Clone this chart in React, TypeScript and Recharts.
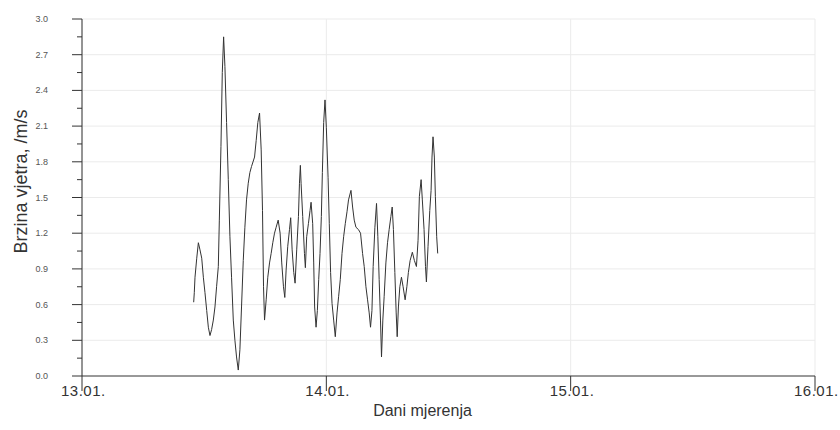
import React from 'react';
import { LineChart, Line, XAxis, YAxis, CartesianGrid, Label, ReferenceLine } from 'recharts';

// hours since 13.01. 00:00
const hours = [
  10.97, 11.03, 11.1, 11.27, 11.43, 11.59, 11.76, 11.92, 12.08, 12.25, 12.41, 12.57, 12.73, 12.9, 13.06, 13.22,
  13.39, 13.49, 13.65, 13.78, 13.91, 14.04, 14.2, 14.37, 14.53, 14.69, 14.86, 15.02, 15.18, 15.35, 15.51, 15.67,
  15.84, 16.0, 16.16, 16.33, 16.49, 16.65, 16.95, 17.11, 17.27, 17.44, 17.6, 17.73, 17.83, 17.93, 18.09, 18.25,
  18.42, 18.58, 18.74, 18.91, 19.07, 19.27, 19.46, 19.62, 19.79, 19.92, 20.05, 20.21, 20.38, 20.5, 20.64, 20.8,
  20.93, 21.09, 21.26, 21.36, 21.45, 21.52, 21.68, 21.85, 21.94, 22.07, 22.24, 22.4, 22.5, 22.66, 22.76, 22.85,
  22.99, 23.12, 23.25, 23.38, 23.51, 23.61, 23.74, 23.87, 24.0, 24.17, 24.29, 24.42, 24.56, 24.72, 24.88, 25.05,
  25.21, 25.37, 25.54, 25.7, 25.86, 26.03, 26.18, 26.42, 26.58, 26.74, 26.91, 27.16, 27.36, 27.56, 27.72, 27.89,
  28.05, 28.21, 28.34, 28.48, 28.6, 28.77, 28.93, 29.06, 29.19, 29.32, 29.42, 29.55, 29.68, 29.85, 30.01, 30.17,
  30.34, 30.47, 30.59, 30.73, 30.86, 30.96, 31.08, 31.22, 31.38, 31.54, 31.74, 31.91, 32.06, 32.23, 32.45, 32.65,
  32.85, 33.01, 33.14, 33.31, 33.43, 33.6, 33.74, 33.83, 33.99, 34.16, 34.29, 34.38, 34.48, 34.61, 34.71, 34.84,
  34.94,
];

// wind speed, m/s
const speed = [
  0.62, 0.7, 0.83, 0.99, 1.12, 1.06, 0.99, 0.83, 0.7, 0.55, 0.41, 0.34, 0.39, 0.47, 0.58, 0.75,
  0.92, 1.31, 1.93, 2.55, 2.85, 2.6, 2.13, 1.65, 1.17, 0.83, 0.47, 0.3, 0.16, 0.05, 0.22, 0.58,
  0.97, 1.25, 1.48, 1.62, 1.71, 1.76, 1.84, 1.98, 2.13, 2.21, 1.9, 1.39, 0.75, 0.47, 0.64, 0.83,
  0.95, 1.03, 1.12, 1.2, 1.25, 1.31, 1.2, 0.95, 0.75, 0.66, 0.89, 1.09, 1.23, 1.33, 1.06, 0.87,
  0.78, 1.06, 1.34, 1.62, 1.77, 1.62, 1.34, 1.03, 0.91, 1.17, 1.28, 1.39, 1.46, 1.28, 0.95, 0.58,
  0.41, 0.55, 0.81, 1.03, 1.34, 1.71, 2.13, 2.32, 2.09, 1.67, 1.28, 0.87, 0.61, 0.47, 0.33, 0.53,
  0.67, 0.81, 1.03, 1.17, 1.28, 1.38, 1.48, 1.56, 1.42, 1.31, 1.25, 1.23, 1.2, 1.03, 0.92, 0.75,
  0.64, 0.53, 0.41, 0.55, 0.92, 1.25, 1.45, 1.17, 0.81, 0.47, 0.16, 0.47, 0.67, 0.95, 1.12, 1.23,
  1.34, 1.42, 1.23, 0.87, 0.53, 0.33, 0.58, 0.75, 0.83, 0.75, 0.64, 0.75, 0.87, 0.97, 1.04, 0.97,
  0.92, 1.14, 1.51, 1.65, 1.48, 1.23, 0.92, 0.79, 1.09, 1.39, 1.56, 1.84, 2.01, 1.84, 1.51, 1.17,
  1.03,
];

const dayTicks = [0, 24, 48, 72];
const dayLabels = ['13.01.', '14.01.', '15.01.', '16.01.'];
const majorYTicks = [0, 0.3, 0.6, 0.9, 1.2, 1.5, 1.8, 2.1, 2.4, 2.7, 3.0];
const minorYTicks = [0.15, 0.45, 0.75, 1.05, 1.35, 1.65, 1.95, 2.25, 2.55, 2.85];
const allYTicks = [...majorYTicks, ...minorYTicks].sort((a, b) => a - b);

const data = hours.map((h, i) => ({ h, v: speed[i] }));

const FONT = '"Liberation Sans", Arial, sans-serif';
const AXIS = '#333333';
const GRID = '#ebebeb';

const XTick = (props: any) => {
  const { x, y, payload } = props;
  const idx = dayTicks.indexOf(payload.value);
  return (
    <g>
      <line x1={x} y1={y} x2={x} y2={y + 15} stroke={AXIS} strokeWidth={1} />
      <text x={x - 21} y={y + 20} textAnchor="start" fontSize={15} fontFamily={FONT} fill="#333" letterSpacing={0.5}>
        {dayLabels[idx]}
      </text>
    </g>
  );
};

const YTick = (props: any) => {
  const { x, y, payload } = props;
  const isMajor = majorYTicks.some((m) => Math.abs(m - payload.value) < 1e-6);
  if (!isMajor) {
    return <line x1={x - 5} y1={y} x2={x} y2={y} stroke={AXIS} strokeWidth={1} />;
  }
  return (
    <g>
      <line x1={x - 10} y1={y} x2={x} y2={y} stroke={AXIS} strokeWidth={1} />
      <text x={x - 34} y={y + 3} textAnchor="end" fontSize={9} fontFamily={FONT} fill="#555">
        {payload.value.toFixed(1)}
      </text>
    </g>
  );
};

const YTitle = (props: any) => {
  const { viewBox } = props;
  const cx = viewBox.x + 21;
  const cy = viewBox.y + viewBox.height / 2 - 16;
  return (
    <text x={cx} y={cy} transform={`rotate(-90, ${cx}, ${cy})`} textAnchor="middle" dominantBaseline="central" fontSize={18} fontFamily={FONT} fill="#333">
      Brzina vjetra, /m/s
    </text>
  );
};

const XTitle = (props: any) => {
  const { viewBox } = props;
  const cx = viewBox.x + viewBox.width / 2 - 26;
  const cy = viewBox.y + 40;
  return (
    <text x={cx} y={cy} textAnchor="middle" fontSize={16} fontFamily={FONT} fill="#333">
      Dani mjerenja
    </text>
  );
};

export default function App() {
  return (
    <div style={{ position: 'absolute', left: 0, top: 0, width: 840, height: 430, background: '#fff' }}>
      <LineChart width={840} height={430} data={data} margin={{ top: 19, right: 25, bottom: 0, left: 0 }}>
        <CartesianGrid yAxisId="main" horizontal={false} stroke={GRID} strokeWidth={1} />
        {majorYTicks.slice(1).map((v) => (
          <ReferenceLine key={v} yAxisId="main" y={v} stroke={GRID} strokeWidth={1} />
        ))}
        <XAxis
          dataKey="h"
          type="number"
          domain={[0, 72]}
          ticks={dayTicks}
          height={54}
          tickSize={0}
          tickMargin={0}
          tick={<XTick />}
          axisLine={{ stroke: AXIS, strokeWidth: 1 }}
          tickLine={false}
          interval={0}
        >
          <Label content={<XTitle />} />
        </XAxis>
        <YAxis
          yAxisId="main"
          type="number"
          domain={[0, 3]}
          ticks={allYTicks}
          width={82}
          tickSize={0}
          tickMargin={0}
          tick={<YTick />}
          axisLine={{ stroke: AXIS, strokeWidth: 1 }}
          tickLine={false}
          interval={0}
        >
          <Label content={<YTitle />} />
        </YAxis>
        <Line
          yAxisId="main"
          dataKey="v"
          type="linear"
          stroke="#333333"
          strokeWidth={1}
          dot={false}
          isAnimationActive={false}
        />
      </LineChart>
    </div>
  );
}
